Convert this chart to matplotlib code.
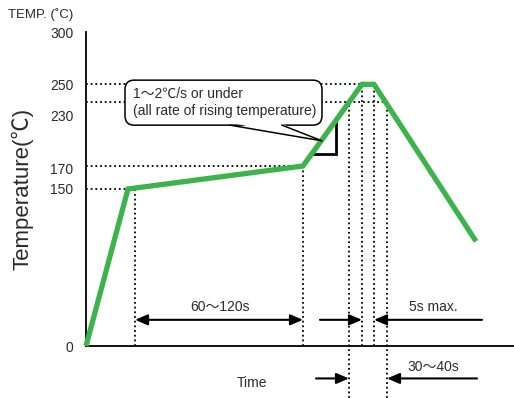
import matplotlib

matplotlib.use("Agg")
import matplotlib.pyplot as plt  # noqa: E402
from matplotlib.patches import FancyBboxPatch, Polygon  # noqa: E402
from matplotlib.transforms import ScaledTranslation  # noqa: E402

plt.rcParams["font.family"] = ["Liberation Sans", "Noto Sans CJK JP", "DejaVu Sans"]

# reflow profile (time in arbitrary units, temperature in degC)
time = [0, 42, 217, 276, 288, 390]
temp = [0, 150, 172, 250, 250, 100]

ytick_vals = [0, 150, 170, 230, 250, 300]
ytick_labels = ["0", "150", "170", "230", "250", "300"]

# dotted guide lines: (level, time where it meets the curve)
h_levels = [150, 172, 233, 250]
h_ends = [42, 217, 301, 276]
# vertical guides: (time, top temp, bottom temp)
v_times = [49, 217, 263, 276, 288, 301]
v_tops = [150, 172, 233, 250, 250, 233]
v_bots = [0, 0, -50, 0, 0, -50]

GREEN = "#3cb44b"
INK = "#2b2b2b"
DOT = (0, (1.0, 1.6))

fig = plt.figure(figsize=(5.14, 3.98), dpi=100)
ax = fig.add_axes([86 / 514, 52 / 398, 428 / 514, 314 / 398])
ax.set_xlim(0, 428)
ax.set_ylim(0, 300)
for s in ("top", "right"):
    ax.spines[s].set_visible(False)
for s in ("left", "bottom"):
    ax.spines[s].set_linewidth(1.3)
ax.set_xticks([])
ax.set_yticks(ytick_vals)
ax.set_yticklabels(ytick_labels, fontsize=10, color=INK)
ax.tick_params(axis="y", length=0, pad=9)
for lab in ax.get_yticklabels():
    if lab.get_text() == "230":
        lab.set_transform(lab.get_transform()
                          + ScaledTranslation(0, -0.1, fig.dpi_scale_trans))

# guides
for lvl, end in zip(h_levels, h_ends):
    ax.plot([0, end], [lvl, lvl], color="black", lw=1.3, ls=DOT, zorder=1)
for t, top, bot in zip(v_times, v_tops, v_bots):
    ax.plot([t, t], [bot, top], color="black", lw=1.3, ls=DOT, zorder=1,
            clip_on=False)

# slope bracket
ax.plot([225, 250, 250], [183, 183, 215], color="black", lw=2.0, zorder=2,
        solid_joinstyle="miter")

# profile curve
ax.plot(time, temp, color=GREEN, lw=3.8, zorder=4, solid_joinstyle="miter",
        solid_capstyle="butt", clip_on=False)

# callout bubble
box = FancyBboxPatch((39, 211), 197, 43, boxstyle="round,pad=0,rounding_size=9",
                     fc="white", ec="black", lw=1.1, zorder=5)
ax.add_patch(box)
ax.add_patch(Polygon([(146, 213), (194, 213), (236, 196)], closed=True,
                     fc="white", ec="none", zorder=6))
ax.plot([144, 236, 196], [211, 196, 211], color="black", lw=1.1, zorder=6)
ax.text(47, 241, "1〜2℃/s or under", fontsize=10, color=INK, va="center",
        zorder=7)
ax.text(47, 225, "(all rate of rising temperature)", fontsize=10, color=INK,
        va="center", zorder=7)


def arrow(x0, x1, y, style):
    ax.annotate("", xy=(x1, y), xytext=(x0, y), annotation_clip=False,
                arrowprops=dict(arrowstyle=style + ",head_length=0.75,head_width=0.32",
                                color="black", lw=1.5, shrinkA=0, shrinkB=0))


arrow(49, 217, 25, "<|-|>")
arrow(234, 276, 25, "-|>")
arrow(396, 288, 25, "-|>")
arrow(230, 263, -31, "-|>")
arrow(391, 301, -31, "-|>")

ax.text(134, 37, "60〜120s", fontsize=10, color=INK, ha="center", va="center")
ax.text(347, 37, "5s max.", fontsize=10, color=INK, ha="center", va="center")
ax.text(347, -20, "30〜40s", fontsize=10, color=INK, ha="center", va="center",
        clip_on=False)
ax.text(166, -35, "Time", fontsize=10, color=INK, ha="center", va="center",
        clip_on=False)

fig.text(8 / 514, 1 - 15 / 398, "TEMP. (˚C)", fontsize=9.5, color=INK,
         ha="left", va="center")
fig.text(22 / 514, 1 - 189 / 398, "Temperature(℃)", fontsize=16, color=INK,
         rotation=90, ha="center", va="center")

fig.savefig("out.png", dpi=100)
